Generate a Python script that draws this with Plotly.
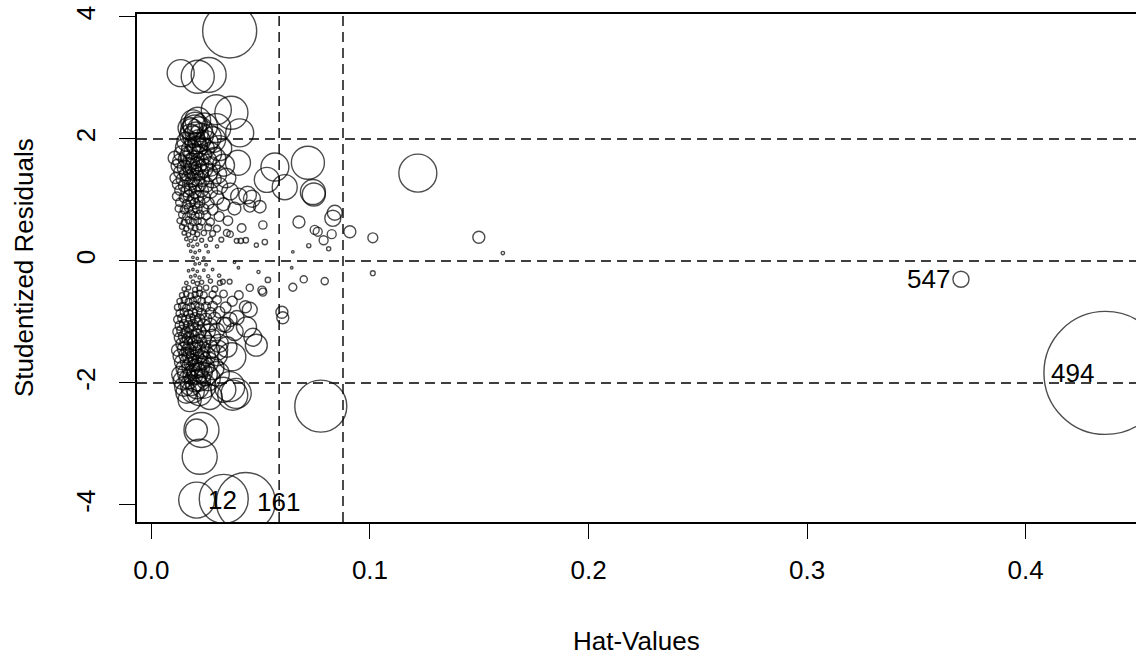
import math
import plotly.graph_objects as go

# ---------------- data ----------------
# first four observations are the labelled ones
point_labels = ["12", "161", "547", "494"]

hat_values = [
    # labelled: 12, 161, 547, 494
    0.0207, 0.0432, 0.3704, 0.4365,
    # top outliers
    0.0358, 0.0134, 0.0212, 0.0262,
    # upper right big
    0.0297, 0.0366, 0.0404, 0.0396, 0.0565, 0.0528, 0.0610, 0.0716, 0.0739, 0.0743, 0.1219,
    # upper right small
    0.0839, 0.0830, 0.0675, 0.0747, 0.0761, 0.0788, 0.0825, 0.0908, 0.1013, 0.1498, 0.1608, 0.0720, 0.0811, 0.0647,
    # near zero right
    0.0642, 0.1013, 0.0697, 0.0647, 0.0793, 0.0597, 0.0601, 0.0510, 0.0775,
    # cluster edge upper
    0.0450, 0.0496, 0.0510, 0.0413, 0.0390, 0.0409, 0.0432, 0.0480, 0.0519, 0.0345, 0.0440, 0.0460, 0.0107,
    # cluster edge zero
    0.0380, 0.0398, 0.0490, 0.0533, 0.0506, 0.0450, 0.0358, 0.0327, 0.0313,
    # cluster edge lower
    0.0480, 0.0435, 0.0343, 0.0391, 0.0450, 0.0464, 0.0368, 0.0304, 0.0345,
    # lower tail
    0.0175, 0.0267, 0.0372, 0.0388, 0.0358, 0.0329, 0.0229, 0.0206, 0.0221, 0.0331,
    # upper band
    0.0190, 0.0212, 0.0200,
    0.0172, 0.0185, 0.0198, 0.0222, 0.0242, 0.0297,
    0.0178, 0.0193, 0.0207, 0.0262, 0.0229,
    0.0160, 0.0201, 0.0219, 0.0251, 0.0281,
    0.0150, 0.0181, 0.0210, 0.0238, 0.0310,
    0.0140, 0.0170, 0.0191, 0.0228, 0.0270,
    0.0130, 0.0160, 0.0181, 0.0199, 0.0221, 0.0252, 0.0290,
    0.0120, 0.0151, 0.0171, 0.0190, 0.0212, 0.0241, 0.0270, 0.0330,
    0.0131, 0.0160, 0.0182, 0.0200, 0.0222, 0.0262, 0.0301,
    0.0110, 0.0141, 0.0170, 0.0189, 0.0210, 0.0231, 0.0280, 0.0342,
    0.0120, 0.0150, 0.0180, 0.0201, 0.0219, 0.0250, 0.0311,
    0.0130, 0.0160, 0.0179, 0.0200, 0.0230, 0.0270, 0.0360,
    0.0116, 0.0150, 0.0170, 0.0191, 0.0211, 0.0240, 0.0300, 0.0400,
    0.0130, 0.0161, 0.0180, 0.0199, 0.0220, 0.0260, 0.0330,
    0.0125, 0.0150, 0.0171, 0.0190, 0.0210, 0.0240, 0.0280, 0.0380,
    0.0140, 0.0160, 0.0181, 0.0200, 0.0221, 0.0250, 0.0310,
    0.0130, 0.0150, 0.0170, 0.0190, 0.0211, 0.0230, 0.0270, 0.0350,
    0.0140, 0.0160, 0.0180, 0.0200, 0.0220, 0.0260, 0.0300,
    0.0150, 0.0170, 0.0190, 0.0210, 0.0240, 0.0280, 0.0360,
    0.0160, 0.0180, 0.0200, 0.0230, 0.0270, 0.0320,
    0.0170, 0.0190, 0.0210, 0.0250, 0.0300,
    0.0180, 0.0200, 0.0220, 0.0260,
    0.0190, 0.0210, 0.0240, 0.0200, 0.0220, 0.0250,
    # lower band
    0.0170, 0.0190, 0.0210, 0.0240, 0.0280,
    0.0180, 0.0200, 0.0220, 0.0260, 0.0310,
    0.0160, 0.0190, 0.0210, 0.0230, 0.0270,
    0.0150, 0.0170, 0.0200, 0.0220, 0.0250, 0.0290,
    0.0140, 0.0160, 0.0180, 0.0200, 0.0220, 0.0240, 0.0280, 0.0330, 0.0400,
    0.0130, 0.0150, 0.0170, 0.0190, 0.0210, 0.0230, 0.0260, 0.0300, 0.0370,
    0.0120, 0.0140, 0.0160, 0.0180, 0.0200, 0.0220, 0.0250, 0.0280, 0.0340, 0.0430,
    0.0130, 0.0150, 0.0170, 0.0190, 0.0210, 0.0230, 0.0270, 0.0310,
    0.0120, 0.0140, 0.0160, 0.0180, 0.0200, 0.0220, 0.0250, 0.0290, 0.0360,
    0.0130, 0.0150, 0.0170, 0.0190, 0.0210, 0.0240, 0.0270, 0.0330,
    0.0120, 0.0140, 0.0160, 0.0180, 0.0200, 0.0220, 0.0260, 0.0300, 0.0380,
    0.0130, 0.0150, 0.0170, 0.0190, 0.0210, 0.0240, 0.0280,
    0.0140, 0.0160, 0.0180, 0.0200, 0.0220, 0.0260, 0.0310,
    0.0120, 0.0150, 0.0170, 0.0190, 0.0210, 0.0230, 0.0270,
    0.0130, 0.0160, 0.0180, 0.0200, 0.0220, 0.0250, 0.0300,
    0.0140, 0.0170, 0.0190, 0.0210, 0.0230, 0.0260,
    0.0150, 0.0180, 0.0200, 0.0220, 0.0240, 0.0280,
    0.0130, 0.0160, 0.0190, 0.0210, 0.0230, 0.0250, 0.0300,
    0.0140, 0.0170, 0.0200, 0.0220, 0.0260,
    0.0150, 0.0180, 0.0210, 0.0240,
    0.0160, 0.0190, 0.0220,
]

rstudent = [
    # labelled: 12, 161, 547, 494
    -3.92, -3.95, -0.30, -1.835,
    # top outliers
    3.77, 3.08, 3.02, 3.05,
    # upper right big
    2.48, 2.43, 2.10, 1.61, 1.54, 1.33, 1.21, 1.61, 1.13, 1.09, 1.44,
    # upper right small
    0.79, 0.70, 0.64, 0.51, 0.48, 0.34, 0.44, 0.48, 0.38, 0.39, 0.13, 0.25, 0.20, 0.15,
    # near zero right
    -0.11, -0.20, -0.30, -0.43, -0.33, -0.84, -0.93, -0.51, -2.38,
    # cluster edge upper
    0.90, 0.89, 0.59, 0.54, 0.33, 0.33, 0.34, 0.26, 0.31, 0.46, 1.08, 1.02, 1.69,
    # cluster edge zero
    -0.02, -0.11, -0.18, -0.31, -0.48, -0.44, -0.34, -0.34, -0.36,
    # cluster edge lower
    -1.38, -1.08, -1.05, -0.93, -0.80, -1.25, -1.57, -1.46, -1.41,
    # lower tail
    -2.28, -2.23, -2.20, -2.17, -2.06, -2.11, -2.77, -2.77, -3.21, -3.90,
    # upper band
    2.28, 2.31, 2.24,
    2.18, 2.15, 2.20, 2.16, 2.21, 2.18,
    2.07, 2.04, 2.09, 2.03, 2.06,
    1.96, 1.93, 1.97, 1.94, 1.99,
    1.86, 1.83, 1.87, 1.84, 1.85,
    1.76, 1.73, 1.77, 1.74, 1.76,
    1.64, 1.67, 1.63, 1.66, 1.62, 1.65, 1.68,
    1.56, 1.53, 1.57, 1.54, 1.56, 1.52, 1.55, 1.57,
    1.46, 1.43, 1.47, 1.44, 1.46, 1.45, 1.42,
    1.36, 1.34, 1.37, 1.33, 1.36, 1.35, 1.34, 1.36,
    1.26, 1.23, 1.27, 1.24, 1.26, 1.25, 1.23,
    1.16, 1.14, 1.17, 1.13, 1.16, 1.15, 1.14,
    1.06, 1.04, 1.07, 1.03, 1.06, 1.05, 1.04, 1.06,
    0.96, 0.93, 0.97, 0.94, 0.96, 0.95, 0.93,
    0.86, 0.84, 0.87, 0.83, 0.86, 0.85, 0.84, 0.86,
    0.76, 0.73, 0.77, 0.74, 0.76, 0.75, 0.73,
    0.66, 0.63, 0.67, 0.64, 0.66, 0.65, 0.64, 0.66,
    0.56, 0.53, 0.57, 0.54, 0.56, 0.55, 0.53,
    0.46, 0.43, 0.47, 0.44, 0.46, 0.45, 0.44,
    0.36, 0.33, 0.37, 0.34, 0.36, 0.35,
    0.26, 0.24, 0.27, 0.25, 0.24,
    0.16, 0.14, 0.17, 0.15,
    0.06, 0.04, 0.05, -0.05, -0.04, -0.06,
    # lower band
    -0.16, -0.14, -0.17, -0.15, -0.14,
    -0.26, -0.24, -0.27, -0.25, -0.24,
    -0.36, -0.34, -0.37, -0.35, -0.33,
    -0.46, -0.44, -0.47, -0.45, -0.44, -0.46,
    -0.56, -0.54, -0.57, -0.55, -0.53, -0.56, -0.55, -0.54, -0.56,
    -0.66, -0.64, -0.67, -0.65, -0.63, -0.66, -0.65, -0.64, -0.66,
    -0.76, -0.74, -0.77, -0.75, -0.73, -0.76, -0.75, -0.74, -0.76, -0.75,
    -0.86, -0.84, -0.87, -0.85, -0.83, -0.86, -0.85, -0.84,
    -0.96, -0.94, -0.97, -0.95, -0.93, -0.96, -0.95, -0.94, -0.96,
    -1.06, -1.04, -1.07, -1.05, -1.03, -1.06, -1.05, -1.04,
    -1.16, -1.14, -1.17, -1.15, -1.13, -1.16, -1.15, -1.14, -1.16,
    -1.26, -1.24, -1.27, -1.25, -1.23, -1.26, -1.25,
    -1.36, -1.34, -1.37, -1.35, -1.33, -1.36, -1.35,
    -1.46, -1.44, -1.47, -1.45, -1.43, -1.46, -1.45,
    -1.56, -1.54, -1.57, -1.55, -1.53, -1.56, -1.55,
    -1.66, -1.64, -1.67, -1.65, -1.63, -1.66,
    -1.76, -1.74, -1.77, -1.75, -1.73, -1.76,
    -1.86, -1.84, -1.87, -1.85, -1.83, -1.86, -1.85,
    -1.96, -1.94, -1.97, -1.95, -1.93,
    -2.06, -2.04, -2.07, -2.05,
    -2.16, -2.14, -2.17,
]

cooks_d = [
    # labelled: 12, 161, 547, 494
    0.0225, 0.0606, 0.0045, 0.2633,
    # top outliers
    0.0508, 0.0127, 0.0190, 0.0213,
    # upper right big
    0.0157, 0.0190, 0.0136, 0.0109, 0.0136, 0.0109, 0.0109, 0.0190, 0.0109, 0.0092, 0.0251,
    # upper right small
    0.0039, 0.0045, 0.0025, 0.0014, 0.0014, 0.0014, 0.0014, 0.0025, 0.0017, 0.0025, 0.0002, 0.0003, 0.0003, 0.0001,
    # near zero right
    0.0001, 0.0004, 0.0009, 0.0011, 0.0009, 0.0025, 0.0025, 0.0011, 0.0471,
    # cluster edge upper
    0.0025, 0.0027, 0.0012, 0.0013, 0.0004, 0.0005, 0.0005, 0.0003, 0.0005, 0.0008, 0.0054, 0.0050, 0.0031,
    # cluster edge zero
    0.00001, 0.00005, 0.00017, 0.0005, 0.0012, 0.0009, 0.0004, 0.0004, 0.0004,
    # cluster edge lower
    0.0084, 0.0070, 0.0039, 0.0036, 0.0039, 0.0056, 0.0136, 0.0068, 0.0072,
    # lower tail
    0.0093, 0.0109, 0.0157, 0.0157, 0.0157, 0.0109, 0.0213, 0.0084, 0.0213, 0.0418,
    # upper band
    0.0100, 0.0115, 0.0102,
    0.0083, 0.0087, 0.0097, 0.0106, 0.0121, 0.0145,
    0.0078, 0.0082, 0.0092, 0.0110, 0.0099,
    0.0063, 0.0076, 0.0087, 0.0096, 0.0114,
    0.0053, 0.0062, 0.0075, 0.0083, 0.0109,
    0.0044, 0.0052, 0.0061, 0.0071, 0.0086,
    0.0035, 0.0045, 0.0049, 0.0056, 0.0059, 0.0070, 0.0084,
    0.0030, 0.0036, 0.0043, 0.0046, 0.0052, 0.0057, 0.0067, 0.0084,
    0.0028, 0.0033, 0.0040, 0.0042, 0.0048, 0.0056, 0.0062,
    0.0021, 0.0026, 0.0032, 0.0034, 0.0040, 0.0043, 0.0052, 0.0066,
    0.0019, 0.0023, 0.0030, 0.0032, 0.0036, 0.0040, 0.0048,
    0.0018, 0.0021, 0.0025, 0.0026, 0.0032, 0.0037, 0.0049,
    0.0013, 0.0017, 0.0020, 0.0021, 0.0024, 0.0027, 0.0033, 0.0047,
    0.0012, 0.0014, 0.0017, 0.0018, 0.0021, 0.0024, 0.0029,
    0.0009, 0.0011, 0.0013, 0.0013, 0.0016, 0.0018, 0.0020, 0.0029,
    0.0008, 0.0009, 0.0011, 0.0011, 0.0013, 0.0014, 0.0017,
    0.00057, 0.00060, 0.00076, 0.00078, 0.00092, 0.00097, 0.0011, 0.0016,
    0.00044, 0.00045, 0.00058, 0.00058, 0.00069, 0.00079, 0.00084,
    0.00032, 0.00031, 0.00042, 0.00041, 0.00051, 0.00058, 0.00072,
    0.00021, 0.00020, 0.00028, 0.00027, 0.00036, 0.00040,
    0.00012, 0.00011, 0.00016, 0.00016, 0.00018,
    0.00005, 0.00004, 0.00007, 0.00006,
    0.00001, 0.00001, 0.00001, 0.00001, 0.00001, 0.00001,
    # lower band
    0.00004, 0.00004, 0.00006, 0.00006, 0.00006,
    0.00012, 0.00012, 0.00016, 0.00017, 0.00018,
    0.00021, 0.00022, 0.00029, 0.00029, 0.00030,
    0.00032, 0.00033, 0.00045, 0.00046, 0.00050, 0.00063,
    0.00045, 0.00047, 0.00059, 0.00062, 0.00063, 0.00077, 0.00087, 0.00099, 0.0013,
    0.00058, 0.00062, 0.00078, 0.00082, 0.00085, 0.0010, 0.0011, 0.0013, 0.0017,
    0.00071, 0.00078, 0.00096, 0.0010, 0.0011, 0.0013, 0.0014, 0.0016, 0.0020, 0.0025,
    0.00098, 0.0011, 0.0013, 0.0014, 0.0015, 0.0017, 0.0020, 0.0022,
    0.0011, 0.0013, 0.0015, 0.0017, 0.0018, 0.0021, 0.0023, 0.0026, 0.0034,
    0.0015, 0.0016, 0.0020, 0.0021, 0.0023, 0.0028, 0.0031, 0.0037,
    0.0016, 0.0019, 0.0022, 0.0024, 0.0026, 0.0030, 0.0035, 0.0040, 0.0053,
    0.0021, 0.0023, 0.0028, 0.0030, 0.0033, 0.0039, 0.0045,
    0.0026, 0.0029, 0.0034, 0.0037, 0.0040, 0.0049, 0.0058,
    0.0026, 0.0032, 0.0037, 0.0041, 0.0044, 0.0050, 0.0058,
    0.0032, 0.0039, 0.0045, 0.0049, 0.0053, 0.0062, 0.0074,
    0.0039, 0.0047, 0.0054, 0.0059, 0.0063, 0.0073,
    0.0047, 0.0055, 0.0064, 0.0069, 0.0074, 0.0089,
    0.0046, 0.0055, 0.0068, 0.0073, 0.0079, 0.0089, 0.0106,
    0.0055, 0.0065, 0.0079, 0.0085, 0.0099,
    0.0065, 0.0076, 0.0092, 0.0103,
    0.0076, 0.0089, 0.0106,
]

hat_mean = 0.02922                       # average hat value (p/n)
hat_cutoffs = [2 * hat_mean, 3 * hat_mean]
rstudent_cutoffs = [-2, 0, 2]

x_ticks = [0.0, 0.1, 0.2, 0.3, 0.4]
x_tick_labels = ["0.0", "0.1", "0.2", "0.3", "0.4"]
y_ticks = [-4, -2, 0, 2, 4]
y_tick_labels = ["-4", "-2", "0", "2", "4"]

assert len(hat_values) == len(rstudent) == len(cooks_d), (len(hat_values), len(rstudent), len(cooks_d))

# ---------------- styling ----------------
FONT = "Liberation Sans, Arial, sans-serif"
FS = 26
MAX_DIAM = 123.0
dmax = max(cooks_d)
sizes = [max(2.5, MAX_DIAM * math.sqrt(d / dmax)) for d in cooks_d]

fig = go.Figure()
fig.add_trace(go.Scatter(
    x=hat_values, y=rstudent, mode="markers",
    marker=dict(symbol="circle-open", size=sizes, sizemode="diameter",
                color="black", line=dict(color="black", width=1.4)),
    hoverinfo="skip", showlegend=False, cliponaxis=True,
))

shapes = []
for hc in hat_cutoffs:
    shapes.append(dict(type="line", xref="x", yref="paper", x0=hc, x1=hc, y0=0, y1=1,
                       line=dict(color="black", width=1.4, dash="10px,6px")))
for rc in rstudent_cutoffs:
    shapes.append(dict(type="line", xref="paper", yref="y", x0=0, x1=1, y0=rc, y1=rc,
                       line=dict(color="black", width=1.4, dash="10px,6px")))

annotations = []
for i, lab in enumerate(point_labels):
    right_side = hat_values[i] > 0.2
    annotations.append(dict(
        x=hat_values[i], y=rstudent[i], xref="x", yref="y", text=lab, showarrow=False,
        xanchor="right" if right_side else "left", yanchor="middle",
        xshift=-9 if right_side else 9,
        font=dict(family=FONT, size=FS, color="black")))
annotations.append(dict(x=0.5, y=-0.234, xref="paper", yref="paper", text="Hat-Values",
                        showarrow=False, xanchor="center", yanchor="middle",
                        font=dict(family=FONT, size=FS, color="black")))
annotations.append(dict(x=-0.1131, y=0.5, xref="paper", yref="paper", text="Studentized Residuals",
                        showarrow=False, xanchor="center", yanchor="middle", textangle=-90,
                        font=dict(family=FONT, size=FS, color="black")))

fig.update_layout(
    width=1136, height=655,
    margin=dict(l=137, r=0, t=14, b=133, pad=0),
    paper_bgcolor="white", plot_bgcolor="white",
    font=dict(family=FONT, size=FS, color="black"),
    shapes=shapes, annotations=annotations, showlegend=False,
    xaxis=dict(range=[-0.00659, 0.45048], tickvals=x_ticks, ticktext=x_tick_labels,
               ticks="outside", ticklen=15, tickwidth=1.4, tickcolor="black",
               showline=True, linecolor="black", linewidth=1.6, mirror=True,
               showgrid=False, zeroline=False, ticklabelstandoff=9,
               tickfont=dict(family=FONT, size=FS, color="black")),
    yaxis=dict(range=[-4.279, 4.049], tickvals=y_ticks, ticktext=y_tick_labels,
               ticks="outside", ticklen=16, tickwidth=1.4, tickcolor="black",
               showline=True, linecolor="black", linewidth=1.6, mirror=False,
               showgrid=False, zeroline=False, tickangle=-90, ticklabelstandoff=14,
               tickfont=dict(family=FONT, size=FS, color="black")),
)

fig.write_html("out.html")
